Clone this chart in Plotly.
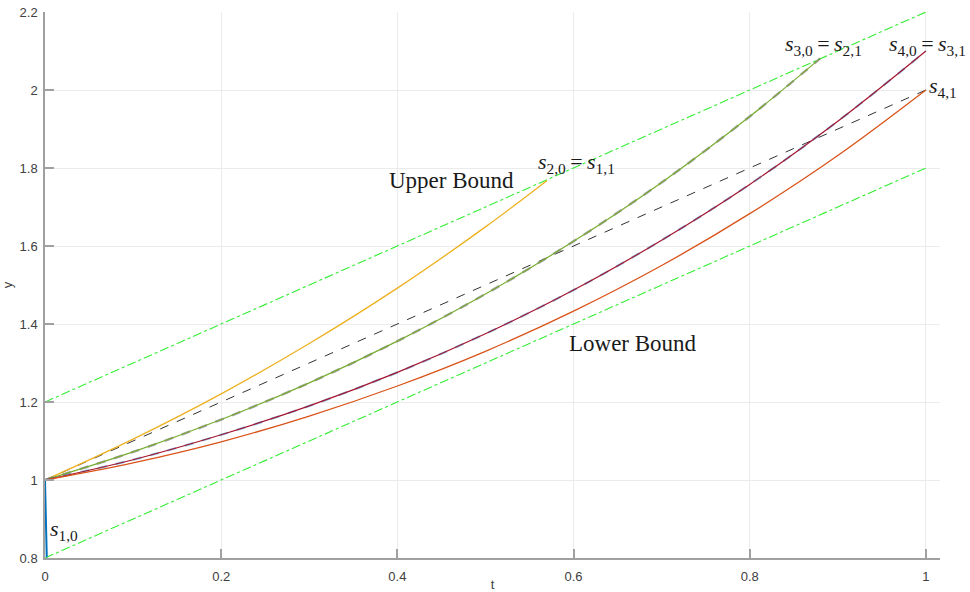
import plotly.graph_objects as go

# Sample times and trajectory values y(t) for each shooting slope
t_full = [0.0, 0.1, 0.2, 0.3, 0.4, 0.5, 0.6, 0.7, 0.8, 0.9, 1.0]
y_s41 = [1.000, 1.044, 1.098, 1.164, 1.241, 1.330, 1.433, 1.550, 1.683, 1.832, 2.000]
y_s31 = [1.000, 1.052, 1.116, 1.190, 1.276, 1.375, 1.487, 1.615, 1.758, 1.920, 2.100]

t_s21 = [0.0, 0.1, 0.2, 0.3, 0.4, 0.5, 0.6, 0.7, 0.8, 0.88]
y_s21 = [1.000, 1.072, 1.155, 1.249, 1.356, 1.477, 1.612, 1.763, 1.932, 2.081]

t_s11 = [0.0, 0.1, 0.2, 0.3, 0.4, 0.5, 0.57]
y_s11 = [1.000, 1.105, 1.221, 1.350, 1.492, 1.649, 1.768]

t_s10 = [0.0, 0.001, 0.002]
y_s10 = [1.000, 0.900, 0.802]

# Straight reference line and the band limits
t_ends = [0.0, 1.0]
y_mid = [1.0, 2.0]
y_upper = [1.2, 2.2]
y_lower = [0.8, 1.8]

x_ticks = [0, 0.2, 0.4, 0.6, 0.8, 1]
x_tick_text = ["0", "0.2", "0.4", "0.6", "0.8", "1"]
y_ticks = [0.8, 1.0, 1.2, 1.4, 1.6, 1.8, 2.0, 2.2]
y_tick_text = ["0.8", "1", "1.2", "1.4", "1.6", "1.8", "2", "2.2"]

BLUE = "#0072BD"
ORANGE = "#D95319"
YELLOW = "#EDB120"
GREEN = "#77AC30"
DARKRED = "#A2142F"
BOUND = "#33EE33"

fig = go.Figure()

def line(x, y, color, width=1.3, dash="solid", opacity=1.0):
    fig.add_trace(go.Scatter(x=x, y=y, mode="lines", opacity=opacity,
                             line=dict(color=color, width=width, dash=dash, shape="spline"),
                             showlegend=False, hoverinfo="skip", cliponaxis=False))

line(t_ends, y_upper, BOUND, 1.1, "dashdot")
line(t_ends, y_lower, BOUND, 1.1, "dashdot")
line(t_ends, y_mid, "#333333", 1.0, "dash")
line(t_s11, y_s11, YELLOW)
line(t_s21, y_s21, "#8a7f90", 2.4, "dash", 0.75)
line(t_s21, y_s21, GREEN, 1.2)
line(t_full, y_s31, BLUE, 2.2, "dash", 0.45)
line(t_full, y_s31, DARKRED, 1.2)
line(t_full, y_s41, ORANGE)
line(t_s10, y_s10, BLUE, 2.0)

words = dict(family="Liberation Serif", size=23, color="#1a1a1a")
symbols = dict(family="Liberation Serif", size=22, color="#1a1a1a")
EQ = "\u2009=\u2009"
labels = [
    (0.461, 1.767, "center", words, "Upper Bound"),
    (0.667, 1.349, "center", words, "Lower Bound"),
    (0.557, 1.813, "left", symbols, f"<i>s</i><sub>2,0</sub>{EQ}<i>s</i><sub>1,1</sub>"),
    (0.838, 2.115, "left", symbols, f"<i>s</i><sub>3,0</sub>{EQ}<i>s</i><sub>2,1</sub>"),
    (0.956, 2.115, "left", symbols, f"<i>s</i><sub>4,0</sub>{EQ}<i>s</i><sub>3,1</sub>"),
    (1.001, 2.008, "left", symbols, "<i>s</i><sub>4,1</sub>"),
    (0.003, 0.872, "left", symbols, "<i>s</i><sub>1,0</sub>"),
]
for x, y, anchor, font, txt in labels:
    fig.add_annotation(x=x, y=y, text=txt, showarrow=False, font=font,
                       xanchor=anchor, yanchor="middle")

axis_common = dict(showgrid=True, gridcolor="#ebebeb", gridwidth=1, automargin=False,
                   showline=True, linecolor="#a0a0a0", linewidth=1.5,
                   ticks="inside", ticklen=9, tickcolor="#a0a0a0", tickwidth=1.5,
                   zeroline=False, tickfont=dict(family="Liberation Sans", size=13, color="#404040"),
                   title_font=dict(family="Liberation Sans", size=13, color="#404040"))

fig.update_xaxes(range=[0, 1.016], tickvals=x_ticks, ticktext=x_tick_text,
                 ticklabelstandoff=6, title_text="t", title_standoff=2, **axis_common)
fig.update_yaxes(range=[0.8, 2.2], tickvals=y_ticks, ticktext=y_tick_text,
                 ticklabelstandoff=3, title_text="y", title_standoff=8, **axis_common)

fig.update_layout(width=970, height=592, margin=dict(l=45, r=30, t=12, b=34),
                  plot_bgcolor="white", paper_bgcolor="white")

fig.write_html("out.html")
